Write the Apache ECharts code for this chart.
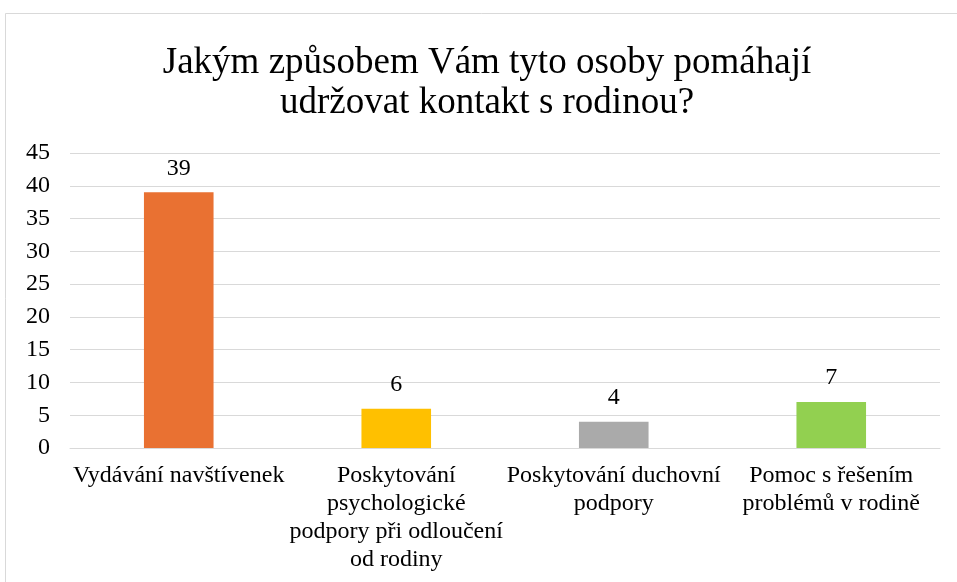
<!DOCTYPE html>
<html>
<head>
<meta charset="utf-8">
<script src="https://cdn.jsdelivr.net/npm/echarts@6/dist/echarts.min.js"></script>
<style>
  html, body { margin: 0; padding: 0; background: #fff; }
  #graf { width: 957px; height: 582px; }
</style>
</head>
<body>
<div id="graf"></div>
<script>
// data
const kategorie = [
  "Vydávání navštívenek",
  "Poskytování\npsychologické\npodpory při odloučení\nod rodiny",
  "Poskytování duchovní\npodpory",
  "Pomoc s řešením\nproblémů v rodině"
];
const hodnoty = [39, 6, 4, 7];
const barvy = ["#E97132", "#FFC000", "#AAAAAA", "#92D050"];
const titulek = "Jakým způsobem Vám tyto osoby pomáhají\nudržovat kontakt s rodinou?";

const font = "'Liberation Serif', 'Times New Roman', serif";
const chart = echarts.init(document.getElementById("graf"));

chart.setOption({
  backgroundColor: "#fff",
  animation: false,
  graphic: [{
    type: "rect",
    shape: { x: 5.5, y: 13.5, width: 1000, height: 700 },
    style: { fill: "none", stroke: "#d9d9d9", lineWidth: 1 },
    silent: true
  }],
  title: {
    text: titulek,
    left: 482,
    top: 38,
    textAlign: "center",
    textStyle: { fontFamily: font, fontSize: 37, fontWeight: "normal", color: "#000", lineHeight: 40 }
  },
  grid: { left: 70, right: 17, top: 153, bottom: 134 },
  xAxis: {
    type: "category",
    data: kategorie,
    axisLine: { lineStyle: { color: "#d9d9d9", width: 1 } },
    axisTick: { show: false },
    axisLabel: { fontFamily: font, fontSize: 24, color: "#000", lineHeight: 28, interval: 0, margin: 14 }
  },
  yAxis: {
    type: "value",
    min: 0, max: 45, interval: 5,
    axisLine: { show: false },
    axisTick: { show: false },
    splitLine: { lineStyle: { color: "#d9d9d9", width: 1 } },
    axisLabel: { fontFamily: font, fontSize: 24, color: "#000", margin: 20 }
  },
  series: [{
    type: "bar",
    barWidth: "32%",
    data: hodnoty.map((v, i) => ({ value: v, itemStyle: { color: barvy[i] } })),
    label: { show: true, position: "top", distance: 12, fontFamily: font, fontSize: 24, color: "#000" }
  }]
});
</script>
</body>
</html>
